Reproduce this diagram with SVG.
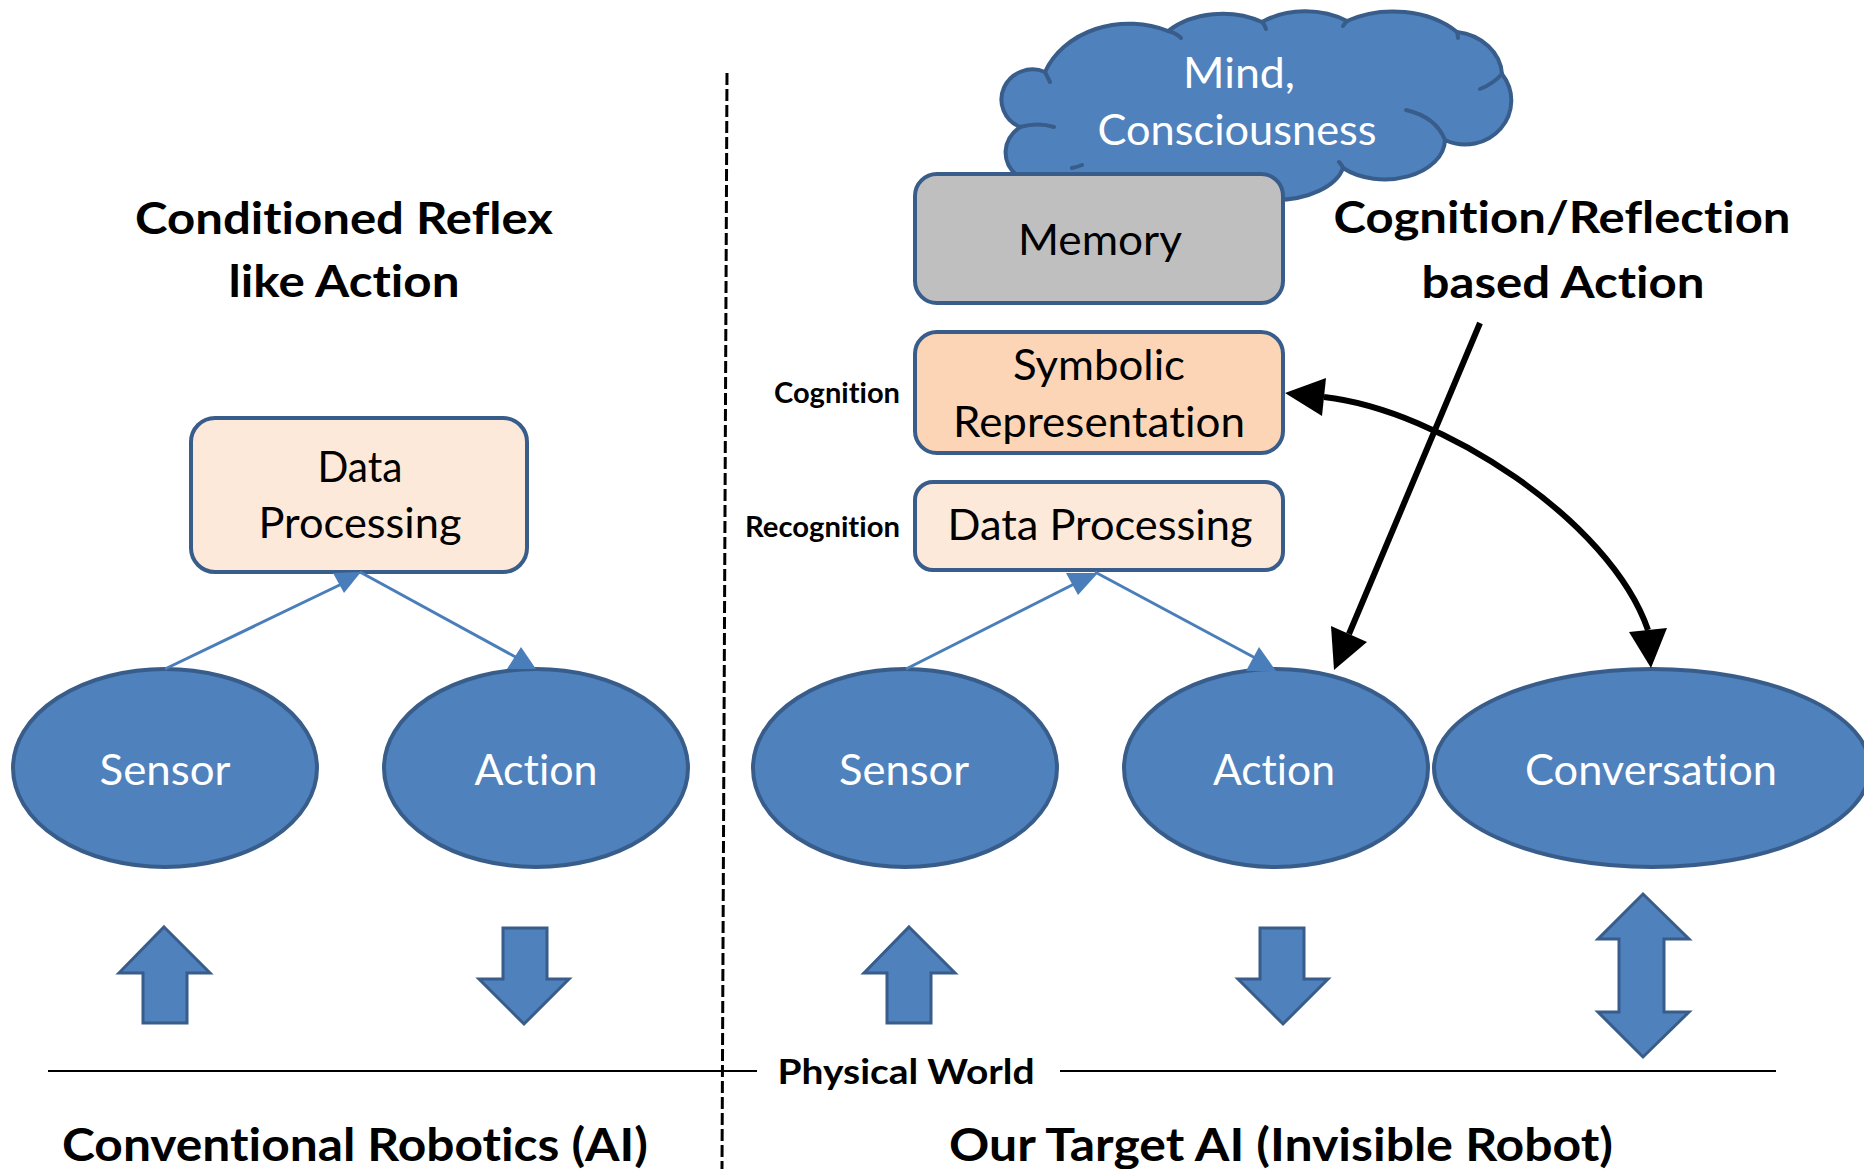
<svg xmlns="http://www.w3.org/2000/svg" width="1864" height="1169" viewBox="0 0 1864 1169">
<defs>
<style>
text{font-variant-ligatures:none;font-feature-settings:"liga" 0}
.t{font-family:Lato,'Open Sans','Liberation Sans',sans-serif;text-anchor:middle}
.w{fill:#ffffff;font-size:42px}
.k{fill:#000000;font-size:42px}
.b{fill:#000000;font-weight:bold}
.node{fill:#4f81bd;stroke:#385d8a;stroke-width:4}
.box{stroke:#385d8a;stroke-width:4}
.blk{fill:#4f81bd;stroke:#385d8a;stroke-width:3}
.bl{stroke:#4a7ebb;stroke-width:3;fill:none}
.bh{fill:#4a7ebb}
.ar{stroke:#000;stroke-width:6;fill:none}
.ah{fill:#000}
.hook{fill:none;stroke:#385d8a;stroke-width:4;stroke-linecap:round}
</style>
</defs>
<rect width="1864" height="1169" fill="#ffffff"/>

<!-- divider and ground line -->
<g id="divider">
<line x1="727" y1="73" x2="722" y2="1169" stroke="#000" stroke-width="3" stroke-dasharray="12 4"/>
<line x1="48" y1="1071" x2="757" y2="1071" stroke="#000" stroke-width="2"/>
<line x1="1060" y1="1071" x2="1776" y2="1071" stroke="#000" stroke-width="2"/>
</g>

<!-- titles -->
<g id="titles">
<text class="t b" x="344" y="234" font-size="44" textLength="418" lengthAdjust="spacingAndGlyphs">Conditioned Reflex</text>
<text class="t b" x="344" y="297" font-size="44" textLength="231" lengthAdjust="spacingAndGlyphs">like Action</text>
<text class="t b" x="1562" y="233" font-size="44" textLength="457" lengthAdjust="spacingAndGlyphs">Cognition/Reflection</text>
<text class="t b" x="1563" y="298" font-size="44" textLength="283" lengthAdjust="spacingAndGlyphs">based Action</text>
<text class="b" x="900" y="403" font-size="28" text-anchor="end" font-family="Lato,'Open Sans','Liberation Sans',sans-serif" textLength="126" lengthAdjust="spacingAndGlyphs">Cognition</text>
<text class="b" x="900" y="537" font-size="28" text-anchor="end" font-family="Lato,'Open Sans','Liberation Sans',sans-serif" textLength="155" lengthAdjust="spacingAndGlyphs">Recognition</text>
<text class="t b" x="906" y="1084" font-size="34" textLength="257" lengthAdjust="spacingAndGlyphs">Physical World</text>
<text class="t b" x="355" y="1161" font-size="45" textLength="586" lengthAdjust="spacingAndGlyphs">Conventional Robotics (AI)</text>
<text class="t b" x="1281" y="1161" font-size="45" textLength="664" lengthAdjust="spacingAndGlyphs">Our Target AI (Invisible Robot)</text>
</g>

<!-- cloud -->
<g id="mind">
<path class="node" d="M1078,178 A38 30 0 0 1 1020,127 A31 30 0 1 1 1045,72 A90 75 0 0 1 1168,31 A75 55 0 0 1 1262,22 A70 50 0 0 1 1347,21 A85 60 0 0 1 1457,32 A52 45 0 0 1 1502,74 A46 44 0 0 1 1445,140 A60 40 0 0 1 1343,168 A70 40 0 0 1 1275,200 L1100,190 Z"/>
<path class="hook" d="M1020,127 Q1038,122 1054,127 M1045,72 Q1048,78 1050,82 M1168,31 Q1176,33 1181,38 M1262,22 Q1265,25 1266,29 M1347,21 Q1345,23 1343,26 M1457,32 Q1458,35 1458,38 M1502,74 Q1493,84 1480,89 M1445,140 Q1436,117 1406,110 M1343,168 Q1342,165 1339,162 M1072,168 Q1077,167 1082,165"/>
<text class="t w" x="1239" y="88" font-size="39" textLength="112" lengthAdjust="spacingAndGlyphs">Mind,</text>
<text class="t w" x="1237" y="145" font-size="39" textLength="279" lengthAdjust="spacingAndGlyphs">Consciousness</text>
</g>

<!-- boxes -->
<g id="memory">
<rect class="box" x="915" y="174" width="368" height="129" rx="22" fill="#bfbfbf"/>
<text class="t k" x="1100" y="255" textLength="164" lengthAdjust="spacingAndGlyphs">Memory</text>
</g>
<g id="symbolic">
<rect class="box" x="915" y="332" width="368" height="121" rx="22" fill="#fbd5b5"/>
<text class="t k" x="1099" y="380" textLength="172" lengthAdjust="spacingAndGlyphs">Symbolic</text>
<text class="t k" x="1099" y="437" textLength="292" lengthAdjust="spacingAndGlyphs">Representation</text>
</g>
<g id="dataproc-right">
<rect class="box" x="915" y="482" width="368" height="88" rx="18" fill="#fde9d9"/>
<text class="t k" x="1100" y="540" textLength="305" lengthAdjust="spacingAndGlyphs">Data Processing</text>
</g>
<g id="dataproc-left">
<rect class="box" x="191" y="418" width="336" height="154" rx="24" fill="#fde9d9"/>
<text class="t k" x="360" y="482" textLength="85" lengthAdjust="spacingAndGlyphs">Data</text>
<text class="t k" x="360" y="538" textLength="203" lengthAdjust="spacingAndGlyphs">Processing</text>
</g>

<!-- ellipses -->
<g id="sensor-left">
<ellipse class="node" cx="165" cy="768" rx="152" ry="99"/>
<text class="t w" x="165" y="785" textLength="131" lengthAdjust="spacingAndGlyphs">Sensor</text>
</g>
<g id="action-left">
<ellipse class="node" cx="536" cy="768" rx="152" ry="99"/>
<text class="t w" x="536" y="785" textLength="123" lengthAdjust="spacingAndGlyphs">Action</text>
</g>
<g id="sensor-right">
<ellipse class="node" cx="905" cy="768" rx="152" ry="99"/>
<text class="t w" x="904" y="785" textLength="130" lengthAdjust="spacingAndGlyphs">Sensor</text>
</g>
<g id="action-right">
<ellipse class="node" cx="1276" cy="768" rx="152" ry="99"/>
<text class="t w" x="1274" y="785" textLength="122" lengthAdjust="spacingAndGlyphs">Action</text>
</g>
<g id="conversation">
<ellipse class="node" cx="1652" cy="768" rx="218" ry="99"/>
<text class="t w" x="1651" y="785" textLength="252" lengthAdjust="spacingAndGlyphs">Conversation</text>
</g>

<!-- block arrows to physical world -->
<g id="io-arrows">
<polygon class="blk" points="164,927 210,973 187,973 187,1023 143,1023 143,973 119,973"/>
<polygon class="blk" points="503,928 547,928 547,979 569,979 524,1024 479,979 503,979"/>
<polygon class="blk" points="909,927 955,973 931,973 931,1023 887,1023 887,973 864,973"/>
<polygon class="blk" points="1260,928 1304,928 1304,979 1328,979 1283,1024 1238,979 1260,979"/>
<polygon class="blk" points="1643,894 1689,939 1664,939 1664,1012 1689,1012 1643,1057 1598,1012 1619,1012 1619,939 1598,939"/>
</g>

<!-- connectors -->
<g id="connectors">
<line class="bl" x1="165" y1="669" x2="350" y2="580"/>
<polygon class="bh" points="333,573 361,572 344,593"/>
<line class="bl" x1="360" y1="572" x2="521" y2="660"/>
<polygon class="bh" points="521,647 536,669 507,669"/>
<line class="bl" x1="906" y1="669" x2="1082" y2="580"/>
<polygon class="bh" points="1066,573 1098,573 1078,595"/>
<line class="bl" x1="1095" y1="572" x2="1259" y2="660"/>
<polygon class="bh" points="1259,647 1276,671 1246,671"/>

<line class="ar" x1="1480" y1="323" x2="1349" y2="634"/>
<polygon class="ah" points="1334,670 1331,626 1367,642"/>

<path class="ar" d="M1324,397 C1440,410 1610,520 1648,630"/>
<polygon class="ah" points="1285,393 1326,378 1322,416"/>
<polygon class="ah" points="1651,668 1629,632 1667,628"/>
</g>
</svg>
